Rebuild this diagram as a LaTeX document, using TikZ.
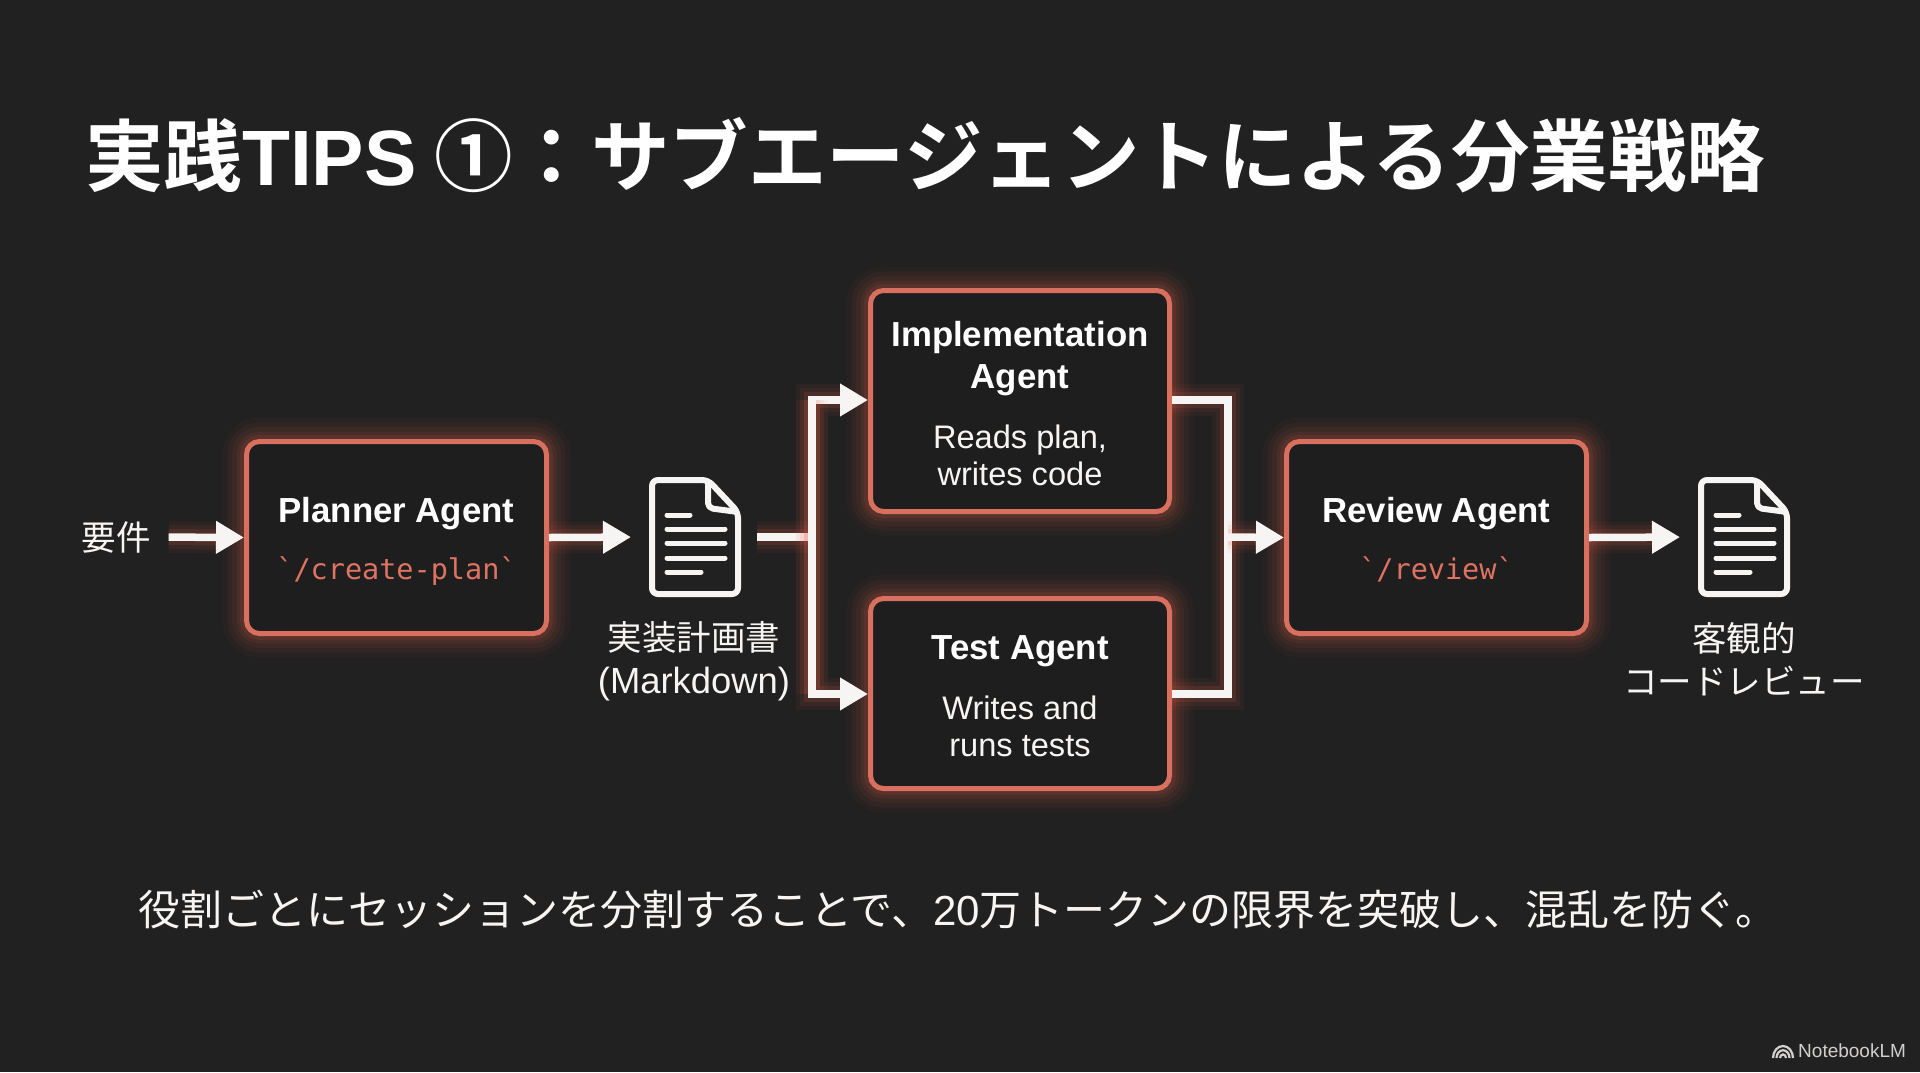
\documentclass[tikz,border=0pt]{standalone}
\usepackage{fontspec}
\usetikzlibrary{arrows.meta}
\setmainfont{Noto Sans CJK JP}[BoldFont={Noto Sans CJK JP Bold}]
\newfontfamily\latinfont{Liberation Sans}
\newfontfamily\codefam{DejaVu Sans Mono}
\definecolor{bgc}{HTML}{212121}
\definecolor{boxfill}{HTML}{1E1E1E}
\definecolor{edge}{HTML}{D9705F}
\definecolor{glowc}{HTML}{E8604A}
\definecolor{codec}{HTML}{DE7363}
\definecolor{ink}{HTML}{F7F5F3}
\newcommand{\nameF}{\fontsize{34.8}{37}\selectfont\latinfont\bfseries\color{white}}
\newcommand{\codeF}{\fontsize{28.5}{37}\selectfont\codefam\color{codec}}
\newcommand{\bodyF}{\fontsize{32.6}{37}\selectfont\latinfont\color{ink}}
\newcommand{\topnudge}[1]{\rule{0pt}{#1pt}}
\tikzset{
  agentbox/.style={draw=edge,line width=5pt,rounded corners=13pt,fill=boxfill,
    outer sep=2.5pt,inner sep=0pt,align=center,font=\fontsize{30}{37}\selectfont,
    preaction={draw=glowc,line width=48pt,opacity=.04},
    preaction={draw=glowc,line width=38pt,opacity=.05},
    preaction={draw=glowc,line width=29pt,opacity=.06},
    preaction={draw=glowc,line width=20pt,opacity=.08},
    preaction={draw=glowc,line width=13pt,opacity=.10}},
  flow/.style={draw=ink,line width=7.5pt,
    preaction={draw=glowc,line width=32pt,opacity=.05},
    preaction={draw=glowc,line width=24pt,opacity=.07},
    preaction={draw=glowc,line width=16pt,opacity=.12}},
  flowarrow/.style={flow,-{Triangle[width=31pt,length=28pt]}},
  label/.style={inner sep=0pt,text=ink,align=center,font=\fontsize{34.5}{43}\selectfont},
  slot/.style={minimum width=92pt,minimum height=120pt,inner sep=0pt,outer sep=0pt},
  docicon/.pic={
    \draw[ink,line width=6pt,line join=round,rounded corners=6pt]
      (-43,-57) -- (13,-57) -- (43,-25) -- (43,57) -- (-43,57) -- cycle;
    \draw[ink,line width=6pt,line join=round,rounded corners=5pt] (13,-57) -- (13,-29) -- (43,-25);
    \foreach \yy/\xx in {-22/-5,-8/30,6/30,21/30,35/6}
      \draw[ink,line width=5pt,line cap=round] (-28,\yy) -- (\xx,\yy);
  }
}
\begin{document}
\begin{tikzpicture}[x=1pt,y=-1pt]
\path[use as bounding box,fill=bgc] (0,0) rectangle (1920,1072);

\node[anchor=west,inner sep=0pt,text=white,font=\fontsize{78.5}{90}\selectfont\bfseries] (title) at (85,155) {実践{\latinfont\bfseries TIPS} ①：サブエージェントによる分業戦略};

\node[label] (req) at (116,537) {要件};
\node[agentbox,minimum width=300pt,minimum height=192pt] (planner) at (396.5,537.5)
  {\topnudge{32}\nameF Planner Agent\\[20pt]\codeF `/create-plan`};
\node[slot] (doc1) at (695,537) {};
\pic at (doc1.center) {docicon};
\node[label] (doc1lab) at (694,661) {実装計画書\\{\latinfont\fontsize{36.4}{43}\selectfont (Markdown)}};
\node[agentbox,minimum width=299pt,minimum height=221pt] (impl) at (1020,401)
  {\topnudge{30}\nameF Implementation\\[5pt]\nameF Agent\\[23pt]\bodyF Reads plan,\\\bodyF writes code};
\node[agentbox,minimum width=299pt,minimum height=190pt] (test) at (1020,693.5)
  {\topnudge{30}\nameF Test Agent\\[23pt]\bodyF Writes and\\\bodyF runs tests};
\node[agentbox,minimum width=300pt,minimum height=192pt] (review) at (1436.5,537.5)
  {\topnudge{30}\nameF Review Agent\\[20pt]\codeF `/review`};
\node[slot] (doc2) at (1744,537) {};
\pic at (doc2.center) {docicon};
\node[label] (doc2lab) at (1744,659) {客観的\\コードレビュー};

\coordinate (split) at (812,537);
\coordinate (splitT) at (812,400);
\coordinate (splitB) at (812,694);
\coordinate (merge) at (1228,537);
\coordinate (mergeT) at (1228,400);
\coordinate (mergeB) at (1228,694);

\draw[flowarrow,shorten <=18pt] (req.east) -- (planner.west);
\draw[flowarrow,shorten >=18pt] (planner.east) -- (doc1.west);
\draw[flow,shorten <=16pt] (doc1.east) -- (split);
\draw[flowarrow] (splitB) -- (splitT) -- (impl.west |- splitT);
\draw[flowarrow] (splitT) -- (splitB) -- (test.west |- splitB);
\draw[flow,line cap=butt] (impl.east |- mergeT) -- (mergeT) -- (mergeB) -- (test.east |- mergeB);
\draw[flowarrow] (merge) -- (review.west);
\draw[flowarrow,shorten >=18pt] (review.east) -- (doc2.west);

\node[anchor=west,inner sep=0pt,text=ink,font=\fontsize{42}{50}\selectfont] (note) at (138,910)
  {役割ごとにセッションを分割することで、{\latinfont 20}万トークンの限界を突破し、混乱を防ぐ。};

\node[anchor=west,inner sep=0pt,text=ink!85!black,font=\fontsize{19}{22}\selectfont\latinfont] (brand) at (1798,1051) {NotebookLM};
\coordinate (logo) at (1783,1058);
\foreach \r in {3,6.5,10}
  \draw[ink!85!black,line width=2.2pt] ([xshift=-\r pt]logo) arc[start angle=180,end angle=0,x radius=\r pt,y radius=1.2*\r pt];
\end{tikzpicture}
\end{document}
